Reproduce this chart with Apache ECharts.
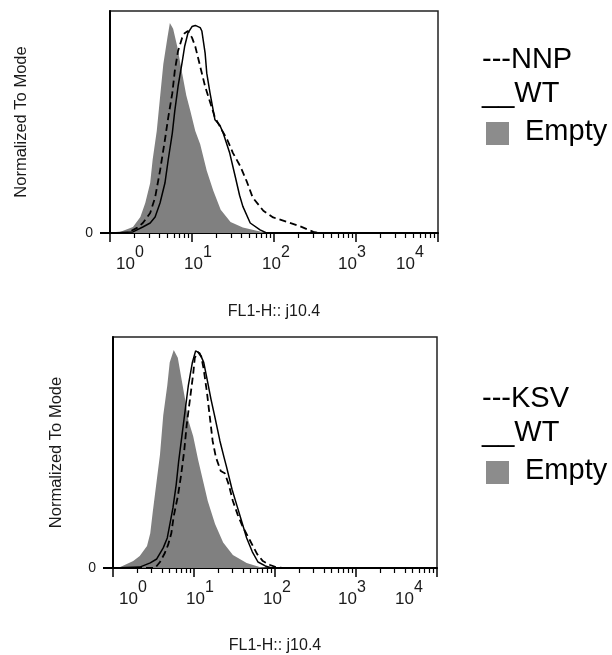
<!DOCTYPE html>
<html><head><meta charset="utf-8">
<style>html,body{margin:0;padding:0;background:#fff}#c{width:612px;height:655px}</style>
<script src="https://cdn.jsdelivr.net/npm/echarts@6.0.0/dist/echarts.min.js"></script>
</head><body><div id="c"></div>
<script>
// ---- data ----
const decadeTicks = [1, 10, 100, 1000, 10000];
const tickExponents = ['0', '1', '2', '3', '4'];
const minorTickValues = [2,3,4,5,6,7,8,9, 20,30,40,50,60,70,80,90, 200,300,400,500,600,700,800,900, 2000,3000,4000,5000,6000,7000,8000,9000];
const yTickValues = [0];
const xTitle = 'FL1-H:: j10.4';
const yTitle = 'Normalized To Mode';
const topLegend = ['---NNP', '__WT', 'Empty'];
const bottomLegend = ['---KSV', '__WT', 'Empty'];

// top panel (x in decades, y in % of mode)
const topEmptyExp = [0, 0.12, 0.28, 0.37, 0.43, 0.49, 0.52, 0.57, 0.61, 0.65, 0.70, 0.73, 0.77, 0.82, 0.88, 0.93, 0.98, 1.04, 1.10, 1.18, 1.26, 1.35, 1.47, 1.62, 1.79, 1.91, 4];
const topEmptyVal = [0, 0.5, 2.7, 7.2, 13.5, 22.5, 33, 46, 61, 76, 88, 94.6, 92, 84, 72, 62, 55, 46, 40, 28, 19, 10.5, 5, 2.5, 1, 0, 0];
const topWtExp = [0, 0.28, 0.40, 0.49, 0.55, 0.61, 0.67, 0.71, 0.76, 0.79, 0.83, 0.88, 0.91, 0.95, 1.00, 1.04, 1.10, 1.12, 1.16, 1.18, 1.22, 1.28, 1.34, 1.38, 1.46, 1.53, 1.58, 1.62, 1.71, 1.83, 1.91, 4];
const topWtVal = [0, 0.5, 2.7, 4.5, 7.2, 13.5, 22.5, 33, 45, 55, 66, 77, 84, 90, 93, 93.5, 92.5, 91, 81, 72, 63, 51, 48.5, 45, 36, 25, 17, 12, 4.5, 1.4, 0, 0];
const topNnpExp = [0, 0.21, 0.33, 0.40, 0.49, 0.55, 0.61, 0.67, 0.71, 0.76, 0.79, 0.83, 0.88, 0.91, 0.95, 1.00, 1.04, 1.10, 1.16, 1.22, 1.28, 1.37, 1.43, 1.50, 1.59, 1.67, 1.74, 1.87, 1.99, 2.16, 2.32, 2.48, 2.56, 4];
const topNnpVal = [0, 0, 2.3, 4.5, 9, 16, 28, 42, 52, 63, 73, 82, 88, 90, 91, 88, 84, 75, 66, 59, 52, 46, 42, 36, 30, 23, 16, 10, 7, 5, 3, 0.5, 0, 0];

// bottom panel
const botEmptyExp = [0, 0.09, 0.25, 0.33, 0.42, 0.46, 0.49, 0.54, 0.58, 0.62, 0.67, 0.70, 0.75, 0.80, 0.85, 0.89, 0.93, 0.99, 1.05, 1.11, 1.17, 1.26, 1.36, 1.48, 1.65, 1.81, 1.94, 4];
const botEmptyVal = [0, 0.4, 3.0, 5.2, 9.5, 15, 24, 38, 49, 66, 79, 89, 94.4, 91, 81, 73, 64, 57, 47, 38, 29, 19, 11, 5.6, 2.2, 0.4, 0, 0];
const botWtExp = [0, 0.33, 0.46, 0.54, 0.62, 0.67, 0.70, 0.74, 0.78, 0.81, 0.85, 0.89, 0.93, 0.98, 1.02, 1.07, 1.12, 1.16, 1.21, 1.26, 1.32, 1.37, 1.40, 1.47, 1.53, 1.59, 1.65, 1.72, 1.79, 1.88, 1.96, 4];
const botWtVal = [0, 0.4, 2.2, 3.9, 8.7, 13, 18.6, 26, 36, 46, 57, 68, 79, 89, 94, 93, 89, 82, 73, 65, 55, 48, 44, 34, 27, 20, 13, 7, 2.6, 0.9, 0, 0];
const botKsvExp = [0, 0.52, 0.58, 0.64, 0.68, 0.72, 0.75, 0.80, 0.84, 0.88, 0.91, 0.95, 0.99, 1.01, 1.05, 1.09, 1.12, 1.16, 1.20, 1.23, 1.27, 1.33, 1.38, 1.43, 1.48, 1.54, 1.60, 1.69, 1.78, 1.85, 1.94, 2.01, 2.09, 4];
const botKsvVal = [0, 0, 2.6, 6.5, 10, 15, 22.5, 31, 40, 51, 62, 73, 84, 91, 93.5, 91.5, 86, 76, 64, 55, 48, 42, 41, 36, 29, 23, 18, 12, 6, 3, 1.3, 0.4, 0, 0];

// ---- layout / style ----
const FONT = '"Liberation Sans", Arial, sans-serif';
const labelShift = [20, 6, 2, -4, -28];
function richFor() {
  const rich = {};
  labelShift.forEach((d, i) => {
    rich['b' + i] = {fontFamily: FONT, fontSize: 17, lineHeight: 28, color: '#1a1a1a', verticalAlign: 'bottom', padding: [0, 0, 0, d > 0 ? 2 * d : 0]};
    rich['s' + i] = {fontFamily: FONT, fontSize: 16, lineHeight: 28, color: '#1a1a1a', verticalAlign: 'top', padding: [0, d < 0 ? -2 * d : 0, 0, 0]};
  });
  return rich;
}
function fmt(v) {
  const i = Math.round(Math.log10(v));
  return '{b' + i + '|10}{s' + i + '|' + tickExponents[i] + '}';
}
const pts = (exp, val) => exp.map((e, k) => [Math.pow(10, e), val[k]]);

function panel(gi, nameGapY, nameGapX) {
  const xMajor = {
    gridIndex: gi, type: 'log', logBase: 10, min: decadeTicks[0], max: decadeTicks[decadeTicks.length - 1], position: 'bottom',
    axisLine: {show: true, lineStyle: {color: '#000', width: 2}},
    axisTick: {show: true, length: 9, lineStyle: {color: '#000', width: 1.5}},
    axisLabel: {show: true, margin: 12, formatter: fmt, rich: richFor(), showMinLabel: true, showMaxLabel: true},
    splitLine: {show: false},
    name: xTitle, nameLocation: 'middle', nameGap: nameGapX,
    nameTextStyle: {fontFamily: FONT, fontSize: 16, color: '#1a1a1a'}
  };
  const xMinor = {
    gridIndex: gi, type: 'log', logBase: 10, min: decadeTicks[0], max: decadeTicks[decadeTicks.length - 1], position: 'bottom',
    axisLine: {show: false},
    axisTick: {show: true, length: 5, customValues: minorTickValues, lineStyle: {color: '#000', width: 1.2}},
    axisLabel: {show: false}, splitLine: {show: false}
  };
  const y = {
    gridIndex: gi, type: 'value', min: 0, max: 100,
    axisLine: {show: true, lineStyle: {color: '#000', width: 2}},
    axisTick: {show: true, length: 10, customValues: yTickValues, lineStyle: {color: '#000', width: 2}},
    axisLabel: {show: true, customValues: yTickValues, margin: 17, fontFamily: FONT, fontSize: 14, color: '#1a1a1a', padding: [0, 0, 14, 0]},
    splitLine: {show: false},
    name: yTitle, nameLocation: 'middle', nameGap: nameGapY, nameRotate: 90,
    nameTextStyle: {fontFamily: FONT, fontSize: 16.5, color: '#1a1a1a'}
  };
  return {xMajor, xMinor, y};
}
const p0 = panel(0, 80, 71);
const p1 = panel(1, 48, 70);

function area(name, data, xi, yi) {
  return {name, type: 'line', xAxisIndex: xi, yAxisIndex: yi, data, showSymbol: false, silent: true,
    lineStyle: {width: 0, color: '#808080'}, itemStyle: {color: '#808080'}, areaStyle: {color: '#808080', opacity: 1}, z: 1};
}
function line(name, data, xi, yi, dashed) {
  return {name, type: 'line', xAxisIndex: xi, yAxisIndex: yi, data, showSymbol: false, silent: true,
    lineStyle: {color: '#000', width: dashed ? 1.8 : 1.5, type: dashed ? [7, 4] : 'solid'}, itemStyle: {color: '#000'}, z: dashed ? 3 : 4};
}

function legendGraphics(items, top) {
  const font = '29px ' + FONT;
  return [
    {type: 'text', x: 482, y: top, style: {text: items[0], font, fill: '#000', verticalAlign: 'middle'}},
    {type: 'text', x: 482, y: top + 34, style: {text: items[1], font, fill: '#000', verticalAlign: 'middle'}},
    {type: 'rect', shape: {x: 486, y: top + 62, width: 23, height: 23}, style: {fill: '#8c8c8c'}},
    {type: 'text', x: 525, y: top + 72, style: {text: items[2], font, fill: '#000', verticalAlign: 'middle'}}
  ];
}

const option = {
  animation: false,
  backgroundColor: '#fff',
  grid: [
    {left: 110, top: 11, width: 328, height: 222, show: true, borderColor: '#222', borderWidth: 1.5},
    {left: 113, top: 337, width: 324, height: 231, show: true, borderColor: '#222', borderWidth: 1.5}
  ],
  xAxis: [p0.xMajor, p0.xMinor, p1.xMajor, p1.xMinor],
  yAxis: [p0.y, p1.y],
  series: [
    area('Empty', pts(topEmptyExp, topEmptyVal), 0, 0),
    line('NNP', pts(topNnpExp, topNnpVal), 0, 0, true),
    line('WT', pts(topWtExp, topWtVal), 0, 0, false),
    area('Empty', pts(botEmptyExp, botEmptyVal), 2, 1),
    line('KSV', pts(botKsvExp, botKsvVal), 2, 1, true),
    line('WT', pts(botWtExp, botWtVal), 2, 1, false)
  ],
  graphic: legendGraphics(topLegend, 60).concat(legendGraphics(bottomLegend, 399))
};
const chart = echarts.init(document.getElementById('c'), null, {renderer: 'canvas'});
chart.setOption(option);
</script></body></html>
